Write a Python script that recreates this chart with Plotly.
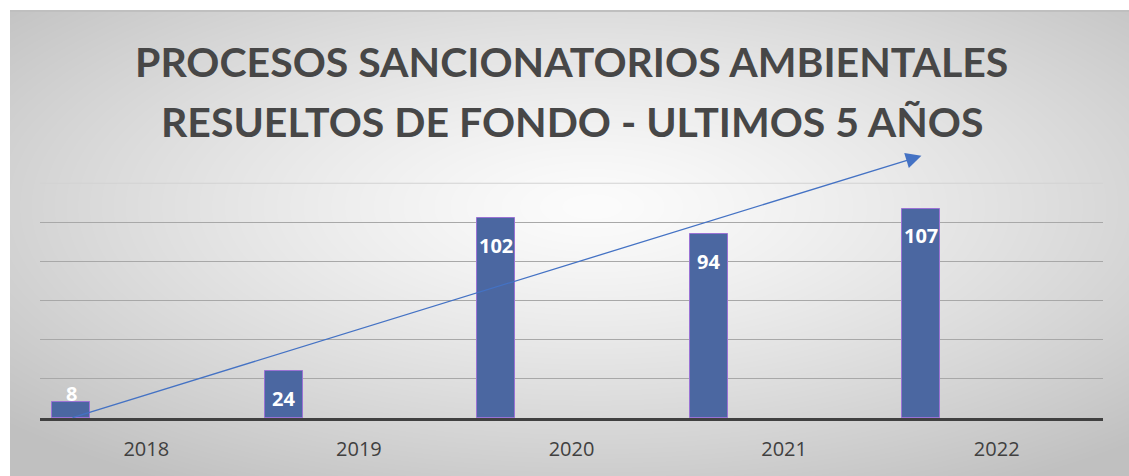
import base64
import struct
import zlib

import numpy as np
import plotly.graph_objects as go

# Data
years = ["2018", "2019", "2020", "2021", "2022"]
resueltos = [8, 24, 102, 94, 107]
grid_values = [20, 40, 60, 80, 100]
top_grid = 120
trend_start = 0
trend_end = 134

TITLE_LINES = [
    "PROCESOS SANCIONATORIOS AMBIENTALES",
    "RESUELTOS DE FONDO - ULTIMOS 5 AÑOS",
]

W, H = 1129, 476
M_L, M_R, M_T, M_B = 40, 26, 150, 58
PLOT_W = W - M_L - M_R
PLOT_H = H - M_T - M_B
Y_MAX = 137

BAR_OFFSET = -0.354
BAR_WIDTH = 0.179
bar_x = [i + BAR_OFFSET for i in range(len(years))]


def gradient_png(w, h):
    """Grey radial gradient, light centre fading to darker edges."""
    ys, xs = np.mgrid[0:h, 0:w].astype(float)
    dx = (xs - 0.52 * w) / (0.5 * w)
    dy = (ys - 0.42 * h) / (0.5 * h)
    d = np.sqrt(dx ** 2 + dy ** 2) / np.sqrt(2)
    g = 252 - 60 * np.clip(d, 0, 1) ** 1.25
    arr = np.clip(g, 0, 255).astype(np.uint8)
    raw = b"".join(b"\x00" + row.tobytes() for row in arr)

    def chunk(tag, data):
        return (struct.pack(">I", len(data)) + tag + data
                + struct.pack(">I", zlib.crc32(tag + data) & 0xFFFFFFFF))

    ihdr = struct.pack(">IIBBBBB", w, h, 8, 0, 0, 0, 0)
    png = (b"\x89PNG\r\n\x1a\n" + chunk(b"IHDR", ihdr)
           + chunk(b"IDAT", zlib.compress(raw, 9)) + chunk(b"IEND", b""))
    return "data:image/png;base64," + base64.b64encode(png).decode()


def paper_y(px):
    """Convert a pixel row of the page into a paper-y coordinate."""
    return 1 + (M_T - px) / PLOT_H


BG_X0, BG_Y0 = 10, 11
bg_w, bg_h = W - BG_X0, H - BG_Y0

fig = go.Figure()

fig.add_trace(go.Bar(
    x=bar_x,
    y=resueltos,
    width=BAR_WIDTH,
    marker=dict(color="#4b67a1", line=dict(color="#9a72d4", width=1)),
    hoverinfo="skip",
    showlegend=False,
))

px_per_unit = PLOT_H / Y_MAX
annotations = []
for xv, v in zip(bar_x, resueltos):
    if v * px_per_unit < 30:
        shift = 9
    else:
        shift = -27
    annotations.append(dict(
        x=xv, y=v, xref="x", yref="y", text=str(v), showarrow=False,
        yanchor="middle", yshift=shift,
        font=dict(family="Open Sans", size=20, color="white", weight="bold"),
    ))

# Two-line chart title
for line, row in zip(TITLE_LINES, [62, 122]):
    annotations.append(dict(
        x=0.5, y=paper_y(row), xref="paper", yref="paper",
        xanchor="center", yanchor="middle", showarrow=False, text=line,
        font=dict(family="Lato", size=41, color="#474747", weight="bold"),
    ))

# Trend arrow from the first bar to the last one
annotations.append(dict(
    x=bar_x[-1], y=trend_end, ax=bar_x[0], ay=trend_start,
    xref="x", yref="y", axref="x", ayref="y",
    showarrow=True, arrowhead=2, arrowsize=2.4, arrowwidth=1.3,
    arrowcolor="#4472c4", standoff=0, startstandoff=0, text="",
))

shapes = [
    dict(type="line", xref="paper", yref="y", x0=0, x1=1, y0=top_grid, y1=top_grid,
         line=dict(color="#d2d2d2", width=1), layer="below"),
    dict(type="line", xref="paper", yref="paper",
         x0=(BG_X0 - M_L) / PLOT_W, x1=(W - M_L) / PLOT_W,
         y0=paper_y(BG_Y0), y1=paper_y(BG_Y0),
         line=dict(color="#bfbfbf", width=2), layer="below"),
]

fig.update_layout(
    width=W, height=H,
    margin=dict(l=M_L, r=M_R, t=M_T, b=M_B, pad=0),
    paper_bgcolor="white",
    plot_bgcolor="rgba(0,0,0,0)",
    images=[dict(
        source=gradient_png(bg_w, bg_h), xref="paper", yref="paper",
        x=(BG_X0 - M_L) / PLOT_W, y=paper_y(BG_Y0),
        sizex=bg_w / PLOT_W, sizey=bg_h / PLOT_H,
        xanchor="left", yanchor="top", sizing="stretch", layer="below",
    )],
    xaxis=dict(
        range=[-0.5, len(years) - 0.5],
        tickvals=list(range(len(years))), ticktext=years,
        showgrid=False, zeroline=False, showline=True,
        linecolor="#404040", linewidth=3, ticks="",
        ticklabelstandoff=11,
        tickfont=dict(family="Open Sans", size=20, color="#404040"),
        fixedrange=True,
    ),
    yaxis=dict(
        range=[0, Y_MAX], tickvals=grid_values, showticklabels=False,
        showgrid=True, gridcolor="#a8a8a8", gridwidth=1,
        zeroline=False, showline=False, fixedrange=True,
    ),
    annotations=annotations,
    shapes=shapes,
    bargap=0,
)

fig.write_html("out.html", config={"displayModeBar": False})
